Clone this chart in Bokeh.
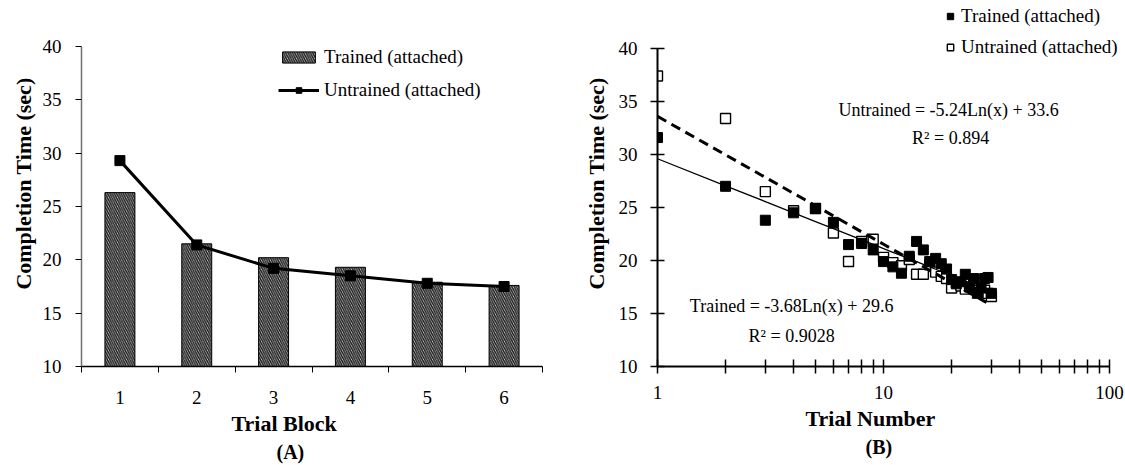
import numpy as np
from bokeh.plotting import figure
from bokeh.models import (FixedTicker, Range1d, Legend, LegendItem, Label, Title,
                          BasicTickFormatter)
from bokeh.layouts import row
from bokeh.embed import file_html
from bokeh.resources import INLINE

# ---------------- data ----------------
blocks = [1, 2, 3, 4, 5, 6]
trained_block = [26.3, 21.5, 20.2, 19.3, 17.9, 17.6]
untrained_block = [29.3, 21.4, 19.2, 18.5, 17.8, 17.5]

trials = list(range(1, 31))
trained_trial = [31.6, 27.0, 23.8, 24.5, 24.9, 23.6, 21.5, 21.6, 21.0, 19.9,
                 19.4, 18.8, 20.4, 21.8, 21.0, 19.9, 20.2, 19.7, 19.2, 18.2,
                 17.8, 18.0, 18.7, 17.5, 18.3, 16.9, 17.4, 18.3, 18.4, 16.9]
untrained_trial = [37.4, 33.4, 26.5, 24.7, 24.9, 22.6, 19.9, 21.8, 22.0, 20.3,
                   19.8, 19.5, 20.1, 18.7, 18.7, 19.6, 18.9, 18.5, 18.3, 17.4,
                   17.9, 17.6, 17.3, 17.8, 17.5, 17.9, 17.0, 17.2, 16.9, 16.6]
trained_fit = (-3.68, 29.6)
untrained_fit = (-5.24, 33.6)

series_names = ["Trained (attached)", "Untrained (attached)"]
y_ticks = [10, 15, 20, 25, 30, 35, 40]

FONT = "Liberation Serif"


def style_axis(ax):
    ax.major_label_text_font = FONT
    ax.major_label_text_font_size = "19px"
    ax.major_label_text_color = "black"
    ax.axis_label_text_font = FONT
    ax.axis_label_text_font_size = "22px"
    ax.axis_label_text_font_style = "bold"
    ax.axis_label_text_color = "black"


def bottom_title(p, text, size, offset, standoff):
    p.add_layout(Title(text=text, align="left", offset=offset, standoff=standoff,
                       text_font=FONT, text_font_size=size, text_font_style="bold",
                       text_color="black"), "below")


# ---------------- panel A ----------------
# frame starts at the top edge (y range extended, axis bounded to 10..40)
pA = figure(width=580, height=465, x_range=Range1d(0.5, 6.5), y_range=Range1d(10, 44.31),
            output_backend="svg", toolbar_location=None, title=None,
            min_border_left=81, min_border_right=38, min_border_top=0, min_border_bottom=99)
pA.outline_line_color = None
pA.grid.visible = False

bars = pA.vbar(x=blocks, top=trained_block, width=0.39, fill_color="#e0e0e0",
               line_color="black", line_width=1,
               hatch_pattern="left_diagonal_line", hatch_color="#1e1e1e",
               hatch_scale=4.5, hatch_weight=1.5)
ln = pA.line(blocks, untrained_block, line_width=3, line_color="black")
sq = pA.scatter(blocks, untrained_block, marker="square", size=10,
                fill_color="black", line_color="black")

xa = pA.xaxis[0]
xa.ticker = FixedTicker(ticks=blocks, minor_ticks=[0.5 + i for i in range(7)])
xa.major_tick_in = 0
xa.major_tick_out = 0
xa.minor_tick_in = 0
xa.minor_tick_out = 6
xa.minor_tick_line_color = "black"
xa.axis_line_color = "black"
xa.axis_line_width = 1.5
xa.major_label_standoff = 18

ya = pA.yaxis[0]
ya.bounds = (10, 40)
ya.ticker = FixedTicker(ticks=y_ticks)
ya.major_tick_in = 0
ya.major_tick_out = 6
ya.minor_tick_line_color = None
ya.axis_line_color = "#707070"
ya.axis_line_width = 1.5
ya.major_tick_line_color = "black"
ya.major_label_standoff = 14
ya.axis_label = "Completion Time (sec)"
ya.axis_label_standoff = 4
style_axis(xa)
style_axis(ya)

legA = Legend(items=[LegendItem(label=series_names[0], renderers=[bars]),
                     LegendItem(label=series_names[1], renderers=[ln, sq])],
              location=(197, 265), orientation="vertical",
              glyph_width=41, glyph_height=14, label_height=20, spacing=11,
              padding=0, margin=0, label_standoff=5,
              border_line_color=None, background_fill_alpha=0,
              label_text_font=FONT, label_text_font_size="19px", label_text_color="black")
pA.add_layout(legA, "center")
bottom_title(pA, "Trial Block", "22px", 150, 4)
bottom_title(pA, "(A)", "20px", 195, 2)

# ---------------- panel B ----------------
# frame reaches the top and right edges so the legend can sit there; axes are bounded
pB = figure(width=545, height=465, x_axis_type="log", x_range=Range1d(1, 117.6),
            y_range=Range1d(10, 44.53), output_backend="svg", toolbar_location=None, title=None,
            min_border_left=74, min_border_right=0, min_border_top=0, min_border_bottom=99)
pB.outline_line_color = None
pB.grid.visible = False

op = pB.scatter(trials, untrained_trial, marker="square", size=10,
                fill_color="white", line_color="black", line_width=1.4)
fp = pB.scatter(trials, trained_trial, marker="square", size=10,
                fill_color="black", line_color="black")
tfit = trained_fit[0] * np.log(np.array(trials)) + trained_fit[1]
ufit = untrained_fit[0] * np.log(np.array(trials)) + untrained_fit[1]
pB.line(trials, tfit, line_color="black", line_width=1.3)
pB.line(trials, ufit, line_color="black", line_width=3, line_dash="10 6")

xb = pB.xaxis[0]
xb.bounds = (1, 100)
xb.ticker = FixedTicker(ticks=[1, 10, 100],
                        minor_ticks=[2, 3, 4, 5, 6, 7, 8, 9, 20, 30, 40, 50, 60, 70, 80, 90])
xb.formatter = BasicTickFormatter()
xb.major_label_overrides = {1: "1", 10: "10", 100: "100"}
xb.major_tick_in = 7
xb.major_tick_out = 7
xb.minor_tick_in = 7
xb.minor_tick_out = 7
xb.minor_tick_line_color = "black"
xb.minor_tick_line_width = 1.5
xb.major_tick_line_width = 1.5
xb.major_label_standoff = 12

yb = pB.yaxis[0]
yb.bounds = (10, 40)
yb.ticker = FixedTicker(ticks=y_ticks)
yb.major_tick_in = 7
yb.major_tick_out = 7
yb.major_tick_line_width = 1.5
yb.minor_tick_line_color = None
yb.major_label_standoff = 13
yb.axis_label = "Completion Time (sec)"
yb.axis_label_standoff = 7
for ax in (xb, yb):
    ax.axis_line_color = "black"
    ax.axis_line_width = 2
    style_axis(ax)

legB = Legend(items=[LegendItem(label=series_names[0], renderers=[fp]),
                     LegendItem(label=series_names[1], renderers=[op])],
              location=(285, 308), orientation="vertical",
              glyph_width=16, glyph_height=22, label_height=20, spacing=9,
              padding=0, margin=0, label_standoff=3,
              border_line_color=None, background_fill_alpha=0,
              label_text_font=FONT, label_text_font_size="19px", label_text_color="black")
pB.add_layout(legB, "center")

ann = [("Untrained = -5.24Ln(x) + 33.6", 19.4, 34.2),
       ("R\u00b2 = 0.894", 19.8, 31.6),
       ("Trained = -3.68Ln(x) + 29.6", 3.92, 15.7),
       ("R\u00b2 = 0.9028", 3.92, 12.9)]
for txt, ax_, ay_ in ann:
    pB.add_layout(Label(x=ax_, y=ay_, text=txt, text_align="center", text_baseline="middle",
                        text_font=FONT, text_font_size="18px", text_color="black"))

bottom_title(pB, "Trial Number", "22px", 148, 4)
bottom_title(pB, "(B)", "20px", 208, 2)

layout = row(pA, pB)
open("out.html", "w").write(file_html(layout, INLINE))
